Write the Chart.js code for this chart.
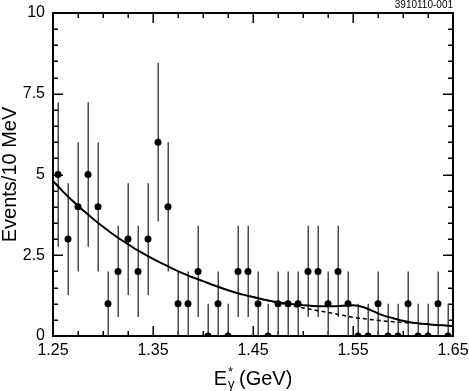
<!DOCTYPE html>
<html>
<head>
<meta charset="utf-8">
<script src="https://cdn.jsdelivr.net/npm/chart.js@4.4.1/dist/chart.umd.min.js"></script>
<style>
  html, body { margin: 0; padding: 0; background: #fff; }
  #wrap { width: 469px; height: 391px; position: relative; }
</style>
</head>
<body>
<div id="wrap"><canvas id="spectrum"></canvas></div>
<script>
// 10 MeV bins, photon energy in GeV
const binCenters = [1.255, 1.265, 1.275, 1.285, 1.295, 1.305, 1.315, 1.325, 1.335, 1.345,
                    1.355, 1.365, 1.375, 1.385, 1.395, 1.405, 1.415, 1.425, 1.435, 1.445,
                    1.455, 1.465, 1.475, 1.485, 1.495, 1.505, 1.515, 1.525, 1.535, 1.545,
                    1.555, 1.565, 1.575, 1.585, 1.595, 1.605, 1.615, 1.625, 1.635, 1.645];
const counts  = [5, 3, 4, 5, 4, 1, 2, 3, 2, 3,
                 6, 4, 1, 1, 2, 0, 1, 0, 2, 2,
                 1, 0, 1, 1, 1, 2, 2, 1, 2, 1,
                 0, 0, 1, 0, 0, 1, 0, 0, 1, 0];
const errUp   = [2.24, 1.73, 2, 2.24, 2, 1, 1.41, 1.73, 1.41, 1.73,
                 2.45, 2, 1, 1, 1.41, 1, 1, 1, 1.41, 1.41,
                 1, 1, 1, 1, 1, 1.41, 1.41, 1, 1.41, 1,
                 1, 1, 1, 1, 1, 1, 1, 1, 1, 1];
const errDown = [2.24, 1.73, 2, 2.24, 2, 1, 1.41, 1.73, 1.41, 1.73,
                 2.45, 2, 1, 1, 1.41, 0, 1, 0, 1.41, 1.41,
                 1, 0, 1, 1, 1, 1.41, 1.41, 1, 1.41, 1,
                 0, 0, 1, 0, 0, 1, 0, 0, 1, 0];

// fit curves
const curveX   = [1.25, 1.26, 1.27, 1.28, 1.29, 1.30, 1.31, 1.32, 1.33, 1.34,
                  1.35, 1.36, 1.37, 1.38, 1.39, 1.40, 1.41, 1.42, 1.43, 1.44,
                  1.45, 1.46, 1.47, 1.48, 1.49, 1.50, 1.51, 1.52, 1.53, 1.54,
                  1.55, 1.56, 1.57, 1.58, 1.59, 1.60, 1.61, 1.62, 1.63, 1.64, 1.65];
const fitTotal = [4.80, 4.47, 4.17, 3.89, 3.63, 3.38, 3.15, 2.94, 2.74, 2.56,
                  2.39, 2.23, 2.08, 1.94, 1.81, 1.70, 1.58, 1.47, 1.37, 1.28,
                  1.21, 1.13, 1.07, 1.02, 0.98, 0.95, 0.93, 0.92, 0.92, 0.94,
                  0.95, 0.90, 0.77, 0.64, 0.55, 0.47, 0.41, 0.38, 0.35, 0.33, 0.31];
const bkgX     = [1.45, 1.46, 1.47, 1.48, 1.49, 1.50, 1.51, 1.52, 1.53, 1.54,
                  1.55, 1.56, 1.57, 1.58, 1.59, 1.60, 1.61, 1.62, 1.63, 1.64, 1.65];
const fitBkg   = [1.21, 1.13, 1.06, 1.00, 0.93, 0.87, 0.81, 0.76, 0.70, 0.64,
                  0.58, 0.54, 0.50, 0.47, 0.44, 0.42, 0.40, 0.38, 0.35, 0.33, 0.31];

const xTickValues = [1.25, 1.35, 1.45, 1.55, 1.65];
const xTickLabels = ['1.25', '1.35', '1.45', '1.55', '1.65'];
const yTickValues = [0, 2.5, 5, 7.5, 10];
const yTickLabels = ['0', '2.5', '5', '7.5', '10'];

const FONT = "'Liberation Sans', Arial, Helvetica, sans-serif";

// error bars and inward tick marks, drawn before the datasets
const errorBars = {
  id: 'errorBars',
  beforeDatasetsDraw(chart) {
    const { ctx, chartArea: a, scales: { x, y } } = chart;
    ctx.save();
    ctx.strokeStyle = '#000';
    ctx.lineWidth = 1.5;
    for (let k = 0; k <= 16; k++) {
      const len = k % 4 === 0 ? 10 : 5;
      const px = Math.round(x.getPixelForValue(1.25 + k * 0.025)) + 0.25;
      ctx.beginPath();
      ctx.moveTo(px, a.top);
      ctx.lineTo(px, a.top + len);
      ctx.stroke();
      ctx.beginPath();
      ctx.moveTo(px, a.bottom);
      ctx.lineTo(px, a.bottom - len);
      ctx.stroke();
    }
    for (let k = 0; k <= 20; k++) {
      const len = k % 5 === 0 ? 10 : 5;
      const py = Math.round(y.getPixelForValue(k * 0.5)) + 0.25;
      ctx.beginPath();
      ctx.moveTo(a.left, py);
      ctx.lineTo(a.left + len, py);
      ctx.stroke();
      ctx.beginPath();
      ctx.moveTo(a.right, py);
      ctx.lineTo(a.right - len, py);
      ctx.stroke();
    }
    ctx.restore();

    ctx.save();
    ctx.beginPath();
    ctx.rect(a.left, a.top, a.right - a.left, a.bottom - a.top);
    ctx.clip();
    ctx.strokeStyle = '#4a4a4a';
    ctx.lineWidth = 1.5;
    binCenters.forEach((e, i) => {
      const px = Math.round(x.getPixelForValue(e)) + 0.25;
      ctx.beginPath();
      ctx.moveTo(px, y.getPixelForValue(counts[i] - errDown[i]));
      ctx.lineTo(px, y.getPixelForValue(counts[i] + errUp[i]));
      ctx.stroke();
    });
    ctx.restore();
  }
};

// box frame, x title and figure tag
const frame = {
  id: 'plotFrame',
  afterDraw(chart) {
    const { ctx, chartArea: a } = chart;
    ctx.save();
    ctx.setLineDash([]);
    ctx.strokeStyle = '#000';
    ctx.lineWidth = 2;
    ctx.strokeRect(a.left, a.top, a.right - a.left, a.bottom - a.top);

    // x axis title: E*_gamma (GeV)
    ctx.fillStyle = '#000';
    ctx.textBaseline = 'alphabetic';
    ctx.textAlign = 'left';
    const big = '20px ' + FONT, small = '13px ' + FONT;
    ctx.font = big;
    const wE = ctx.measureText('E').width;
    const wRest = ctx.measureText(' (GeV)').width;
    ctx.font = small;
    const wSub = Math.max(ctx.measureText('γ').width, ctx.measureText('*').width);
    let tx = (a.left + a.right) / 2 - (wE + wSub + wRest) / 2;
    const base = 385;
    ctx.font = big;
    ctx.fillText('E', tx, base);
    tx += wE + 1;
    ctx.font = small;
    ctx.fillText('*', tx, base - 9);
    ctx.fillText('γ', tx, base + 3);
    tx += wSub - 1;
    ctx.font = big;
    ctx.fillText(' (GeV)', tx, base);

    ctx.font = '10px ' + FONT;
    ctx.textAlign = 'right';
    ctx.textBaseline = 'middle';
    ctx.fillText('3910110-001', a.right, 5);
    ctx.restore();
  }
};

function fixBox(s, size) {
  if (s.isHorizontal()) s.height = size; else s.width = size;
  s.paddingTop = 0; s.paddingBottom = 0; s.paddingLeft = 0; s.paddingRight = 0;
}

new Chart(document.getElementById('spectrum'), {
  type: 'scatter',
  data: {
    datasets: [
      {
        label: 'data',
        data: binCenters.map((e, i) => ({ x: e, y: counts[i] })),
        showLine: false,
        pointRadius: 3.5,
        pointHoverRadius: 3.5,
        pointBackgroundColor: '#000',
        pointBorderColor: '#000',
        pointBorderWidth: 0,
        clip: 0,
        order: 0
      },
      {
        label: 'fit',
        data: curveX.map((e, i) => ({ x: e, y: fitTotal[i] })),
        showLine: true,
        borderColor: '#000',
        borderWidth: 2,
        pointRadius: 0,
        cubicInterpolationMode: 'monotone',
        order: 1
      },
      {
        label: 'background',
        data: bkgX.map((e, i) => ({ x: e, y: fitBkg[i] })),
        showLine: true,
        borderColor: '#000',
        borderWidth: 1.5,
        borderDash: [4, 3],
        pointRadius: 0,
        cubicInterpolationMode: 'monotone',
        order: 2
      }
    ]
  },
  options: {
    responsive: true,
    maintainAspectRatio: false,
    animation: false,
    layout: { padding: { top: 13, right: 16, left: 0, bottom: 0 }, autoPadding: false },
    plugins: {
      legend: { display: false },
      tooltip: { enabled: false }
    },
    scales: {
      x: {
        type: 'linear',
        min: 1.25,
        max: 1.65,
        grid: { display: false, drawTicks: false },
        border: { display: false },
        afterBuildTicks: s => { s.ticks = xTickValues.map(v => ({ value: v })); },
        afterFit: s => fixBox(s, 55),
        ticks: {
          color: '#000',
          padding: 5,
          maxRotation: 0,
          autoSkip: false,
          font: { family: FONT, size: 16 },
          callback: v => xTickLabels[xTickValues.findIndex(t => Math.abs(t - v) < 1e-6)]
        }
      },
      y: {
        min: 0,
        max: 10,
        grid: { display: false, drawTicks: false },
        border: { display: false },
        afterBuildTicks: s => { s.ticks = yTickValues.map(v => ({ value: v })); },
        afterFit: s => fixBox(s, 53),
        ticks: {
          color: '#000',
          padding: 8,
          font: { family: FONT, size: 16 },
          callback: v => yTickLabels[yTickValues.findIndex(t => Math.abs(t - v) < 1e-6)]
        },
        title: {
          display: true,
          text: 'Events/10 MeV',
          color: '#000',
          padding: 0,
          font: { family: FONT, size: 20, lineHeight: 1 }
        }
      }
    }
  },
  plugins: [errorBars, frame]
});
</script>
</body>
</html>
